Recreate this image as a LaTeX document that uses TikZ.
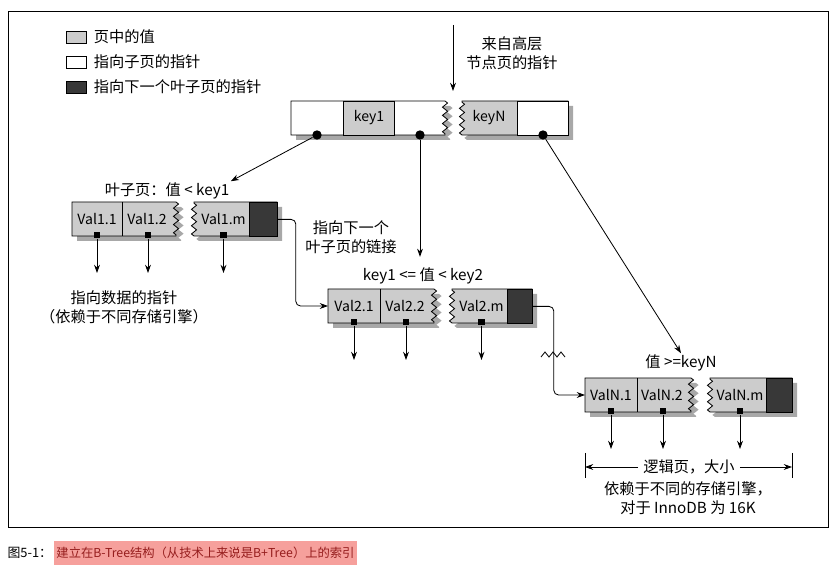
\documentclass[tikz,border=0pt]{standalone}
\usepackage{fontspec}
\setmainfont{Noto Sans CJK SC}
\usetikzlibrary{positioning, arrows.meta, decorations.pathmorphing, calc}
\definecolor{valgray}{gray}{0.8}
\definecolor{darkgray2}{gray}{0.22}
\definecolor{shadegray}{gray}{0.66}
\definecolor{capbg}{RGB}{246,160,156}
\definecolor{captext}{RGB}{150,30,30}

\begin{document}
\begin{tikzpicture}[x=0.03cm, y=-0.03cm, line width=0.7pt,
    font=\fontsize{13}{16.5}\selectfont,
    every node/.style={inner sep=1pt},
    ptr/.style={-{Stealth[length=7pt, width=5pt]}},
    zz/.style={decoration={zigzag, segment length=7pt, amplitude=2.2pt}},
    valfill/.style={fill=valgray},
    shade/.style={fill=shadegray, draw=none},
    cell/.style={font=\fontsize{12}{14}\selectfont},
    keycell/.style={cell, draw, fill=valgray, minimum width=1.53cm, minimum height=1.02cm},
    darkcell/.style={draw, fill=darkgray2, minimum height=1.02cm, inner sep=0pt},
    dot/.style={circle, fill=black, minimum size=8pt, inner sep=0pt},
    sq/.style={rectangle, fill=black, minimum size=5.5pt, inner sep=0pt},
    swatch/.style={draw, minimum width=0.6cm, minimum height=0.36cm, inner sep=0pt}]

  \useasboundingbox (0,0) rectangle (834,573);
  \draw[line width=0.8pt] (8,11) rectangle (828,527);

  % legend
  \node[swatch, fill=valgray] (sw1) at (76,37) {};
  \node[swatch] (sw2) at (76,62) {};
  \node[swatch, fill=darkgray2] (sw3) at (76,87) {};
  \node[right=5pt of sw1] (lg1) {页中的值};
  \node[right=5pt of sw2] (lg2) {指向子页的指针};
  \node[right=5pt of sw3] (lg3) {指向下一个叶子页的指针};

  % root page
  \coordinate (in0) at (453,25);
  \coordinate (in1) at (453,91);
  \draw[ptr] (in0) -- (in1);
  \node[align=center] (src) at (512,53) {来自高层\\节点页的指针};

  \fill[shade] (296,106) -- (450,106) decorate[zz]{-- (450,140)} -- (296,140) -- cycle;
  \fill[shade] (467,140) decorate[zz]{-- (467,106)} -- (573,106) -- (573,140) -- cycle;
  \draw[fill=white] (291,101) -- (445,101) decorate[zz]{-- (445,135)} -- (291,135) -- cycle;
  \node[keycell] (key1) at (369,118) {key1};
  \draw[valfill] (462,135) decorate[zz]{-- (462,101)} -- (568,101) -- (568,135) -- cycle;
  \draw[fill=white] (517,101) rectangle (568,135);
  \node[cell] (keyN) at (489,118) {keyN};
  \node[dot] (r1) at (317,135) {};
  \node[dot] (r2) at (420,135) {};
  \node[dot] (r3) at (543,135) {};

  % leaf pages
  \foreach \n/\xa/\xm/\xb/\xc/\xd/\xe/\ya in {1/72/122/176/194/249/277/202,
      2/328/380/434/452/507/532/289, N/585/637/691/710/766/792/378}{
    \pgfmathsetmacro\yb{\ya+34}
    \fill[shade] (\xa+5,\ya+5) -- (\xb+5,\ya+5) decorate[zz]{-- (\xb+5,\yb+5)} -- (\xa+5,\yb+5) -- cycle;
    \fill[shade] (\xc+5,\yb+5) decorate[zz]{-- (\xc+5,\ya+5)} -- (\xe+5,\ya+5) -- (\xe+5,\yb+5) -- cycle;
    \draw[valfill] (\xa,\ya) -- (\xb,\ya) decorate[zz]{-- (\xb,\yb)} -- (\xa,\yb) -- cycle;
    \draw (\xm,\ya) -- (\xm,\yb);
    \draw[valfill] (\xc,\yb) decorate[zz]{-- (\xc,\ya)} -- (\xe,\ya) -- (\xe,\yb) -- cycle;
    \node[darkcell, minimum width={(\xe-\xd)*0.03cm}, anchor=north west] (k\n) at (\xd,\ya) {};
    \coordinate (w\n) at (\xa,\ya+17);
    \node[cell] (v\n-1) at ({(\xa+\xm)/2},\ya+17) {Val\n.1};
    \node[cell] (v\n-2) at ({(\xm+\xb)/2-2},\ya+17) {Val\n.2};
    \node[cell] (v\n-m) at ({(\xc+\xd)/2+2},\ya+17) {Val\n.m};
    \node[sq] (s\n-1) at ({(\xa+\xm)/2},\yb-1) {};
    \node[sq] (s\n-2) at ({(\xm+\xb)/2-1},\yb-1) {};
    \node[sq] (s\n-m) at ({(\xc+\xd)/2+2},\yb-1) {};
    \coordinate (e\n-1) at ({(\xa+\xm)/2},\yb+37);
    \coordinate (e\n-2) at ({(\xm+\xb)/2-1},\yb+37);
    \coordinate (e\n-m) at ({(\xc+\xd)/2+2},\yb+37);
    \draw[ptr] (s\n-1) -- (e\n-1);
    \draw[ptr] (s\n-2) -- (e\n-2);
    \draw[ptr] (s\n-m) -- (e\n-m);
  }

  % page labels
  \node (lab1) at (167,191) {叶子页：值 < key1};
  \node (lab2) at (423,276) {key1 <= 值 < key2};
  \node (labN) at (681,363) {值 >=keyN};
  \draw[ptr] (r1) -- (lab1.north east);
  \draw[ptr, shorten >=8pt] (r2) -- (r2 |- lab2.north);
  \draw[ptr] (r3) -- (labN.north);

  \node[align=center] (dptr) at (124,307) {指向数据的指针\\（依赖于不同存储引擎）};

  % links between leaves
  \node[align=center] (nxt) at (351,237) {指向下一个\\叶子页的链接};
  \draw[ptr, rounded corners=4pt] (k1.east) -- ++(18,0) |- (w2);
  \draw[ptr, rounded corners=4pt] (k2.east) -- ++(21,0) |- (wN);
  \coordinate (gap) at (553,355);
  \draw (gap) ++(-12,2) -- ++(4,-5) -- ++(4,5) -- ++(4,-5) -- ++(4,5) -- ++(4,-5) -- ++(4,5);

  % page size
  \coordinate (bl) at (585,467);
  \coordinate (br) at (792,467);
  \draw (585,453) -- (585,478);
  \draw (792,453) -- (792,478);
  \node[inner sep=4pt] (sz) at (689,467) {逻辑页，大小};
  \draw[ptr] (sz) -- (bl);
  \draw[ptr] (sz) -- (br);
  \node[align=center] (szn) at (688,498) {依赖于不同的存储引擎，\\对于 InnoDB 为 16K};

  % caption
  \node[anchor=west, font=\fontsize{11}{13}\selectfont] (fig) at (6,553) {图5-1：};
  \node[right=0pt of fig, fill=capbg, text=captext, minimum height=0.74cm, inner xsep=2pt,
    font=\fontsize{10.5}{12}\selectfont] (cap) {建立在B-Tree结构（从技术上来说是B+Tree）上的索引};
\end{tikzpicture}
\end{document}
